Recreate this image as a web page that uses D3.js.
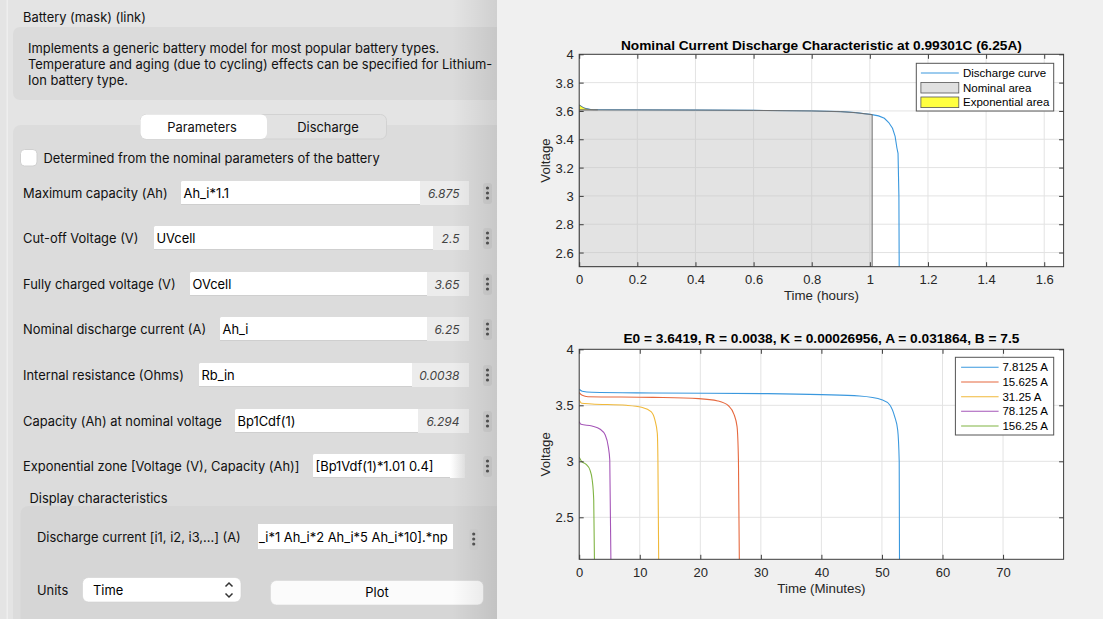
<!DOCTYPE html>
<html><head><meta charset="utf-8">
<script src="https://cdn.jsdelivr.net/npm/d3@7"></script>
<style>body{margin:0;background:#f0f0f0;overflow:hidden}svg{display:block}</style>
</head><body><svg id="c" width="1103" height="619"></svg>
<script>
// ---------- chart data ----------
const topTitle = "Nominal Current Discharge Characteristic at 0.99301C (6.25A)";
const topXTicks = [0, 0.2, 0.4, 0.6, 0.8, 1, 1.2, 1.4, 1.6];
const topYTicks = [2.6, 2.8, 3, 3.2, 3.4, 3.6, 3.8, 4];
const dischargeCurve = [[0,3.642],[0.01,3.628],[0.02,3.618],[0.04,3.61],[0.1,3.608],[0.4,3.606],[0.6,3.604],[0.8,3.6],[0.9,3.595],[0.95,3.588],[1.007,3.574],[1.03,3.565],[1.05,3.548],[1.065,3.518],[1.078,3.478],[1.087,3.42],[1.093,3.34],[1.097,3.3],[1.1,3.0],[1.101,2.5]];
const expArea = [[0,3.642],[0.01,3.628],[0.02,3.618],[0.035,3.611],[0.048,3.608],[0.064,3.607]];
const nominalArea = [[0,3.607],[0.2,3.607],[0.4,3.606],[0.6,3.604],[0.8,3.6],[0.9,3.595],[0.95,3.588],[1.008,3.574]];
const topLegend = ["Discharge curve", "Nominal area", "Exponential area"];

const botTitle = "E0 = 3.6419, R = 0.0038, K = 0.00026956, A = 0.031864, B = 7.5";
const botXTicks = [0, 10, 20, 30, 40, 50, 60, 70];
const botYTicks = [2.5, 3, 3.5, 4];
const currents = ["7.8125 A", "15.625 A", "31.25 A", "78.125 A", "156.25 A"];
const curveA = [[0,3.643],[0.5,3.625],[2.1,3.616],[12.2,3.61],[31.1,3.604],[40,3.595],[46.3,3.583],[50.1,3.548],[51.3,3.503],[52.1,3.399],[52.6,3.28],[52.85,3.0],[52.9,2.1]];
const curveB = [[0,3.613],[0.5,3.589],[1.45,3.577],[12.2,3.571],[19.75,3.56],[22.9,3.539],[24.7,3.494],[25.6,3.414],[26.07,3.31],[26.3,3.01],[26.45,2.1]];
const curveC = [[0,3.548],[0.4,3.518],[2.1,3.512],[7.76,3.5],[10.3,3.482],[11.87,3.443],[12.5,3.369],[12.9,3.25],[13.0,3.01],[13.13,2.1]];
const curveD = [[0,3.354],[0.3,3.33],[2.1,3.315],[3.47,3.286],[4.3,3.235],[4.8,3.131],[5.05,3.012],[5.24,2.1]];
const curveE = [[0,3.036],[0.38,3.0],[1.14,2.973],[1.77,2.923],[2.15,2.833],[2.4,2.655],[2.52,2.1]];
const botSeries = [curveA, curveB, curveC, curveD, curveE];
const botColors = ["#3a98de", "#e6693f", "#f0b93a", "#a556b8", "#80b443"];

// ---------- dialog texts ----------
const descLines = ["Implements a generic battery model for most popular battery types.",
  "Temperature and aging (due to cycling) effects can be specified for Lithium-",
  "Ion battery type."];
const rows = [
  {label:"Maximum capacity (Ah)", expr:"Ah_i*1.1", val:"6.875", y:193, fx:181, vx:420},
  {label:"Cut-off Voltage (V)", expr:"UVcell", val:"2.5", y:238, fx:154, vx:433},
  {label:"Fully charged voltage (V)", expr:"OVcell", val:"3.65", y:284, fx:190, vx:427},
  {label:"Nominal discharge current (A)", expr:"Ah_i", val:"6.25", y:329, fx:220, vx:427},
  {label:"Internal resistance (Ohms)", expr:"Rb_in", val:"0.0038", y:375, fx:199, vx:412},
  {label:"Capacity (Ah) at nominal voltage", expr:"Bp1Cdf(1)", val:"6.294", y:421, fx:235, vx:418},
  {label:"Exponential zone [Voltage (V), Capacity (Ah)]", expr:"[Bp1Vdf(1)*1.01 0.4]", val:"", y:466, fx:313, vx:465}
];

const svg = d3.select("#c");
const UI = "Inter, 'Noto Sans', sans-serif";
const FS = 12.9;
const CF = "'Liberation Sans', Arial, sans-serif";
const defs = svg.append("defs");
const sh = defs.append("linearGradient").attr("id","shadow").attr("x1","0").attr("x2","1");
sh.append("stop").attr("offset","0").attr("stop-color","#000").attr("stop-opacity",0);
sh.append("stop").attr("offset","1").attr("stop-color","#000").attr("stop-opacity",0.09);
const fg = defs.append("linearGradient").attr("id","fieldfade").attr("x1","0").attr("x2","1");
fg.append("stop").attr("offset","0").attr("stop-color","#fff");
fg.append("stop").attr("offset","1").attr("stop-color","#e4e4e4");

function uiText(g, x, y, t, opts={}){
  return g.append("text").attr("x",x).attr("y",y).attr("dominant-baseline","central")
    .attr("font-family",UI).attr("font-size",opts.size||FS).attr("fill",opts.fill||"#111")
    .attr("text-anchor",opts.anchor||"start").attr("font-style",opts.style||"normal").text(t);
}

// ---------- left dialog ----------
const L = svg.append("g");
L.append("rect").attr("x",0).attr("y",0).attr("width",497).attr("height",619).attr("fill","#e4e4e4");
L.append("rect").attr("x",6.5).attr("y",0).attr("width",1.5).attr("height",619).attr("fill","#eeeeee");
uiText(L, 23, 17.5, "Battery (mask) (link)");
L.append("rect").attr("x",13).attr("y",27).attr("width",495).attr("height",73).attr("rx",7).attr("fill","#dbdbdb");
descLines.forEach((t,i)=>uiText(L, 28, 48+i*16.4, t));
L.append("rect").attr("x",13).attr("y",125).attr("width",495).attr("height",510).attr("rx",8).attr("fill","#dcdcdc");
// tabs
L.append("rect").attr("x",140.5).attr("y",114.5).attr("width",246).attr("height",24.5).attr("rx",6).attr("fill","#e2e2e2").attr("stroke","#d2d2d2");
L.append("rect").attr("x",140.5).attr("y",114.5).attr("width",126.5).attr("height",24.5).attr("rx",6).attr("fill","#ffffff");
uiText(L, 202, 127, "Parameters", {anchor:"middle"});
uiText(L, 328, 127, "Discharge", {anchor:"middle"});
// checkbox
L.append("rect").attr("x",20.5).attr("y",149.5).attr("width",16.5).attr("height",16.5).attr("rx",4).attr("fill","#fff").attr("stroke","#d0d0d0");
uiText(L, 43.5, 158, "Determined from the nominal parameters of the battery");

function dots(g, cx, cy){
  g.append("rect").attr("x",cx-4.5).attr("y",cy-10).attr("width",9).attr("height",21).attr("rx",3).attr("fill","#d2d2d2");
  [-5,0,5].forEach(d=>g.append("circle").attr("cx",cx).attr("cy",cy+d).attr("r",1.6).attr("fill","#555"));
}
rows.forEach((r,i)=>{
  uiText(L, 23, r.y, r.label);
  const last = i===rows.length-1;
  const fr = last?465:469;
  L.append("rect").attr("x",r.fx).attr("y",r.y-12).attr("width",fr-r.fx).attr("height",24).attr("rx",1.5).attr("fill","#fff");
  L.append("rect").attr("x",r.fx).attr("y",r.y+11).attr("width",fr-r.fx).attr("height",1).attr("fill","#cfcfcf");
  if(!last){
    L.append("rect").attr("x",r.vx).attr("y",r.y-12).attr("width",469-r.vx).attr("height",24).attr("fill","#ececec");
    uiText(L, 459.5, r.y, r.val, {anchor:"end", style:"italic", size:12, fill:"#444"});
  } else {
    L.append("rect").attr("x",450).attr("y",r.y-12).attr("width",15).attr("height",24).attr("fill","url(#fieldfade)");
  }
  uiText(L, r.fx+2.5, r.y, r.expr, {fill:"#000"});
  dots(L, 487.5, r.y);
});
uiText(L, 29.5, 498, "Display characteristics");
L.append("rect").attr("x",20.5).attr("y",506).attr("width",490).attr("height",130).attr("rx",8).attr("fill","#d6d6d6");
uiText(L, 37, 537, "Discharge current [i1, i2, i3,...] (A)");
L.append("rect").attr("x",258).attr("y",524).attr("width",195).attr("height",25).attr("fill","#fff");
uiText(L, 259, 537, "_i*1 Ah_i*2 Ah_i*5 Ah_i*10].*np", {fill:"#000"});
dots(L, 473.7, 539);
uiText(L, 37, 590, "Units");
L.append("rect").attr("x",82.5).attr("y",577.5).attr("width",158.5).attr("height",24.5).attr("rx",6).attr("fill","#fff").attr("stroke","#d0d0d0").attr("stroke-width",0.6);
uiText(L, 93, 590, "Time", {fill:"#000"});
L.append("path").attr("d","M225.5,586.5 L229,583 L232.5,586.5 M225.5,593.5 L229,597 L232.5,593.5").attr("fill","none").attr("stroke","#333").attr("stroke-width",1.5);
L.append("rect").attr("x",270.5).attr("y",580.5).attr("width",213).attr("height",24.5).attr("rx",6).attr("fill","#fbfbfb").attr("stroke","#d6d6d6").attr("stroke-width",0.6);
uiText(L, 377, 592.5, "Plot", {anchor:"middle", fill:"#000"});
L.append("rect").attr("x",452).attr("y",0).attr("width",45).attr("height",619).attr("fill","url(#shadow)");

// ---------- right charts ----------
svg.append("rect").attr("x",497).attr("y",0).attr("width",606).attr("height",619).attr("fill","#f0f0f0");

function axesFrame(g, x, y, box, xt, yt){
  const {l,r,t,b} = box;
  g.append("rect").attr("x",l).attr("y",t).attr("width",r-l).attr("height",b-t).attr("fill","#fff");
  g.append("g").selectAll("line").data(xt).join("line")
    .attr("x1",d=>x(d)).attr("x2",d=>x(d)).attr("y1",t).attr("y2",b).attr("stroke","#e3e3e3").attr("stroke-width",1);
  g.append("g").selectAll("line").data(yt).join("line")
    .attr("y1",d=>y(d)).attr("y2",d=>y(d)).attr("x1",l).attr("x2",r).attr("stroke","#e3e3e3").attr("stroke-width",1);
}
function axesOver(g, x, y, box, xt, yt, title, xlabel, titleY){
  const {l,r,t,b} = box;
  const fmt = d=>String(d);
  const ax = (gen, tr)=>{
    const a = g.append("g").attr("transform",tr).call(gen);
    a.select(".domain").remove();
    a.selectAll(".tick line").attr("stroke","#3c3c3c");
    a.selectAll(".tick text").attr("font-family",CF).attr("font-size",13).attr("fill","#262626");
    return a;
  };
  const bx = ax(d3.axisBottom(x).tickValues(xt).tickSize(-4.5).tickPadding(7).tickFormat(fmt), `translate(0,${b})`);
  bx.selectAll(".tick text").attr("dy",null).attr("y",17.3);
  ax(d3.axisTop(x).tickValues(xt).tickSize(-4.5).tickFormat(""), `translate(0,${t})`);
  const ly = ax(d3.axisLeft(y).tickValues(yt).tickSize(-4.5).tickPadding(6).tickFormat(fmt), `translate(${l},0)`);
  ly.selectAll(".tick text").attr("x",-5.5).attr("dy","0.35em");
  ax(d3.axisRight(y).tickValues(yt).tickSize(-4.5).tickFormat(""), `translate(${r},0)`);
  g.append("rect").attr("x",l).attr("y",t).attr("width",r-l).attr("height",b-t).attr("fill","none").attr("stroke","#3c3c3c").attr("stroke-width",1);
  g.append("text").attr("x",(l+r)/2).attr("y",titleY).attr("text-anchor","middle").attr("font-family",CF).attr("font-weight","bold").attr("font-size",13.7).attr("fill","#000").text(title);
  g.append("text").attr("x",(l+r)/2).attr("y",b+33.5).attr("text-anchor","middle").attr("font-family",CF).attr("font-size",13.3).attr("fill","#262626").text(xlabel);
  g.append("text").attr("transform",`translate(550,${(t+b)/2}) rotate(-90)`).attr("text-anchor","middle").attr("font-family",CF).attr("font-size",13.3).attr("fill","#262626").text("Voltage");
}

// top chart
const tb = {l:579.2, r:1063.6, t:54.3, b:266.7};
const xT = d3.scaleLinear().domain([0, 5/3]).range([tb.l, tb.r]);
const yT = d3.scaleLinear().domain([2.5, 4]).range([tb.b, tb.t]);
const G1 = svg.append("g");
axesFrame(G1, xT, yT, tb, topXTicks, topYTicks);
const clip1 = defs.append("clipPath").attr("id","clip1"); clip1.append("rect").attr("x",tb.l).attr("y",tb.t).attr("width",tb.r-tb.l).attr("height",tb.b-tb.t);
const P1 = G1.append("g").attr("clip-path","url(#clip1)");
const line1 = d3.line().x(d=>xT(d[0])).y(d=>yT(d[1]));
P1.append("path").attr("d",line1(dischargeCurve)).attr("fill","none").attr("stroke","#3a98de").attr("stroke-width",1.1);
// exponential area: the part of the curve above the nominal area's top edge
const expAreaGen = d3.area().x(d=>xT(d[0])).y0(yT(nominalArea[0][1])).y1(d=>yT(d[1]));
P1.append("path").attr("d",expAreaGen(expArea)).attr("fill","#ffff40").attr("stroke","#6a6a6a").attr("stroke-width",0.7);
const area1 = d3.area().x(d=>xT(d[0])).y0(yT(2.5)).y1(d=>yT(d[1]));
P1.append("path").attr("d",area1(nominalArea)).attr("fill","#c2c2c2").attr("fill-opacity",0.45).attr("stroke","#707070").attr("stroke-width",1);
axesOver(G1, xT, yT, tb, topXTicks, topYTicks, topTitle, "Time (hours)", 49.5);
const lg1 = G1.append("g");
lg1.append("rect").attr("x",916.3).attr("y",63.3).attr("width",137.4).attr("height",47.7).attr("fill","#fff").attr("stroke","#555").attr("stroke-width",1);
const ly1 = [73, 87.7, 102.3];
lg1.append("line").attr("x1",920.9).attr("x2",958.8).attr("y1",ly1[0]).attr("y2",ly1[0]).attr("stroke","#3a98de").attr("stroke-width",1.1);
lg1.append("rect").attr("x",920.9).attr("y",ly1[1]-5.3).attr("width",37.9).attr("height",10.6).attr("fill","#e0e0e0").attr("stroke","#555").attr("stroke-width",0.8);
lg1.append("rect").attr("x",920.9).attr("y",ly1[2]-5.3).attr("width",37.9).attr("height",10.6).attr("fill","#ffff40").attr("stroke","#555").attr("stroke-width",0.8);
lg1.selectAll("text.l").data(topLegend).join("text").attr("x",963).attr("y",(d,i)=>ly1[i]).attr("dy","0.35em").attr("font-family",CF).attr("font-size",11.5).attr("fill","#000").text(d=>d);

// bottom chart
const bb = {l:579.2, r:1063.6, t:349.3, b:559.3};
const xB = d3.scaleLinear().domain([0, 80]).range([bb.l, bb.r]);
const yB = d3.scaleLinear().domain([2.125, 4]).range([bb.b, bb.t]);
const G2 = svg.append("g");
axesFrame(G2, xB, yB, bb, botXTicks, botYTicks);
const clip2 = defs.append("clipPath").attr("id","clip2"); clip2.append("rect").attr("x",bb.l).attr("y",bb.t).attr("width",bb.r-bb.l).attr("height",bb.b-bb.t);
const P2 = G2.append("g").attr("clip-path","url(#clip2)");
const line2 = d3.line().x(d=>xB(d[0])).y(d=>yB(d[1])).curve(d3.curveMonotoneX);
P2.selectAll("path").data(botSeries).join("path").attr("d",d=>line2(d)).attr("fill","none").attr("stroke",(d,i)=>botColors[i]).attr("stroke-width",1.1);
axesOver(G2, xB, yB, bb, botXTicks, botYTicks, botTitle, "Time (Minutes)", 343.3);
const lg2 = G2.append("g");
lg2.append("rect").attr("x",955.4).attr("y",357.3).attr("width",98.3).attr("height",77.7).attr("fill","#fff").attr("stroke","#555").attr("stroke-width",1);
const ly2 = [367.3, 382, 396.7, 411.3, 426];
lg2.selectAll("line").data(currents).join("line").attr("x1",961.1).attr("x2",998.6).attr("y1",(d,i)=>ly2[i]).attr("y2",(d,i)=>ly2[i]).attr("stroke",(d,i)=>botColors[i]).attr("stroke-width",1.1);
lg2.selectAll("text").data(currents).join("text").attr("x",1002.4).attr("y",(d,i)=>ly2[i]).attr("dy","0.35em").attr("font-family",CF).attr("font-size",11.5).attr("fill","#000").text(d=>d);
</script></body></html>
